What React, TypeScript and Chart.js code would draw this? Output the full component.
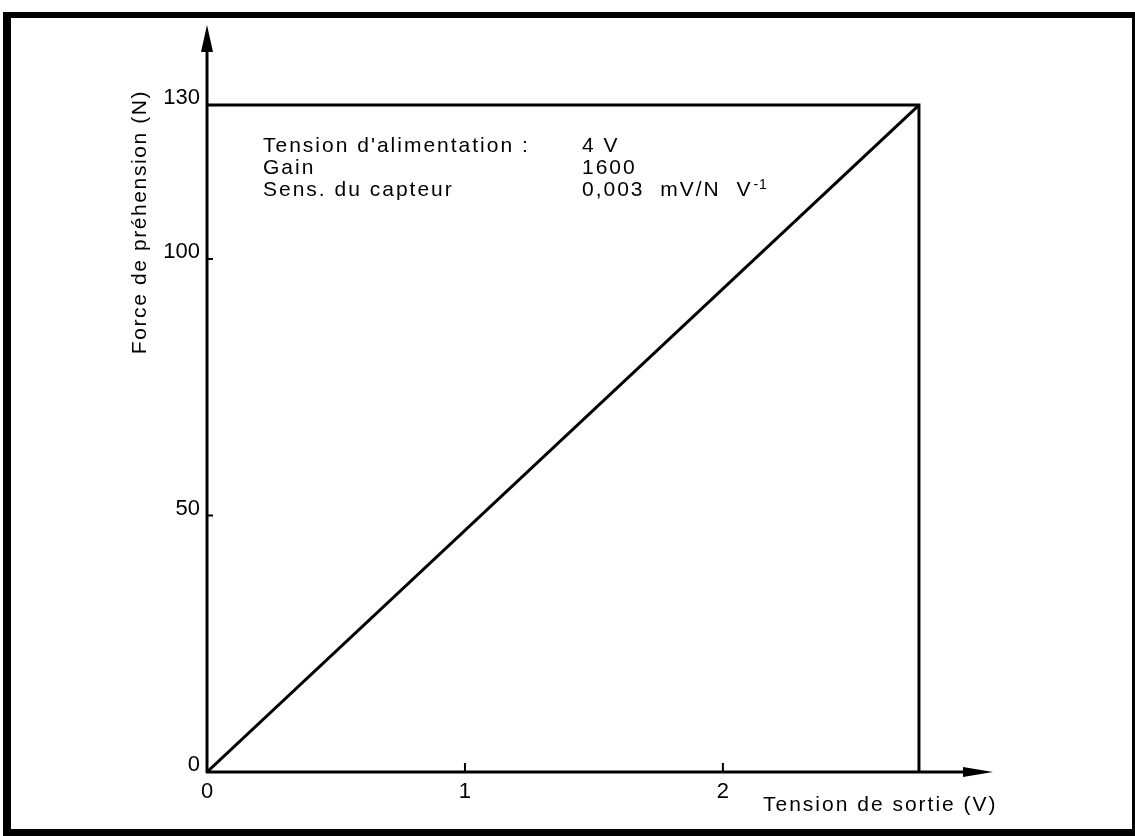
import React, { useEffect, useRef } from "react";
import { Chart, registerables } from "chart.js";

Chart.register(...registerables);

// ---- data ----
const calibX = [0, 2.76];
const calibY = [0, 130];
const boxX = [0, 2.76, 2.76];
const boxY = [130, 130, 0];
const xTickValues = [0, 1, 2];
const yTickValues = [0, 50, 100, 130];
const xMax = 3.047;
const yMax = 145.6;
const xTitle = "Tension de sortie (V)";
const yTitle = "Force de préhension (N)";
const infoLabels = ["Tension d'alimentation :", "Gain", "Sens. du capteur"];
const infoValues = ["4 V", "1600", "0,003  mV/N  V"];

const FONT = "'Liberation Sans', Arial, Helvetica, sans-serif";

const decorPlugin = {
  id: "decor",
  afterDraw(chart: any) {
    const ctx = chart.ctx as CanvasRenderingContext2D;
    const xs = chart.scales.x;
    const ys = chart.scales.y;
    const W = chart.width;
    const H = chart.height;
    const x0 = xs.getPixelForValue(0);
    const y0 = ys.getPixelForValue(0);
    const area = chart.chartArea;
    ctx.save();
    ctx.fillStyle = "#000";
    ctx.strokeStyle = "#000";
    // outer frame
    ctx.fillRect(3, 12, 8, H - 12);
    ctx.fillRect(3, 12, W - 3, 6);
    ctx.fillRect(W - 3, 12, 3, H - 12);
    ctx.fillRect(3, H - 7, W - 3, 7);

    // axes
    ctx.lineWidth = 3;
    ctx.beginPath();
    ctx.moveTo(x0, y0 + 1);
    ctx.lineTo(x0, area.top + 20);
    ctx.stroke();
    ctx.beginPath();
    ctx.moveTo(x0 - 1, y0);
    ctx.lineTo(area.right - 22, y0);
    ctx.stroke();
    // arrow heads
    ctx.beginPath();
    ctx.moveTo(x0, area.top);
    ctx.lineTo(x0 - 6, area.top + 27);
    ctx.lineTo(x0 + 6, area.top + 27);
    ctx.closePath();
    ctx.fill();
    ctx.beginPath();
    ctx.moveTo(area.right, y0);
    ctx.lineTo(area.right - 30, y0 - 5);
    ctx.lineTo(area.right - 30, y0 + 5);
    ctx.closePath();
    ctx.fill();

    // tick marks
    ctx.lineWidth = 2;
    yTickValues.forEach((v) => {
      if (v === 0) return;
      const y = ys.getPixelForValue(v);
      ctx.beginPath();
      ctx.moveTo(x0, y);
      ctx.lineTo(x0 + 6, y);
      ctx.stroke();
    });
    xTickValues.forEach((v) => {
      if (v === 0) return;
      const x = xs.getPixelForValue(v);
      ctx.beginPath();
      ctx.moveTo(x, y0);
      ctx.lineTo(x, y0 - 9);
      ctx.stroke();
    });

    // annotation block
    (ctx as any).letterSpacing = "2px";
    ctx.font = `21px ${FONT}`;
    ctx.textAlign = "left";
    ctx.textBaseline = "alphabetic";
    const baselines = [152, 174, 196];
    infoLabels.forEach((t, i) => ctx.fillText(t, 263, baselines[i]));
    infoValues.forEach((t, i) => ctx.fillText(t, 582, baselines[i]));
    const lastW = ctx.measureText(infoValues[2]).width;
    ctx.font = `14px ${FONT}`;
    (ctx as any).letterSpacing = "1px";
    ctx.fillText("-1", 582 + lastW + 1, baselines[2] - 7);

    // axis titles
    ctx.font = `21px ${FONT}`;
    (ctx as any).letterSpacing = "2px";
    ctx.textBaseline = "middle";
    ctx.fillText(xTitle, 763, 805);
    ctx.save();
    ctx.translate(140, 222);
    ctx.rotate(-Math.PI / 2);
    ctx.textAlign = "center";
    (ctx as any).letterSpacing = "1.6px";
    ctx.fillText(yTitle, 0, 0);
    ctx.restore();
    ctx.restore();
  },
};

export default function App() {
  const ref = useRef<HTMLCanvasElement | null>(null);
  useEffect(() => {
    document.body.style.margin = "0";
    const canvas = ref.current!;
    const chart = new Chart(canvas, {
      type: "scatter",
      data: {
        datasets: [
          {
            data: calibX.map((x, i) => ({ x, y: calibY[i] })),
            showLine: true,
            borderColor: "#000",
            borderWidth: 3,
            pointRadius: 0,
          },
          {
            data: boxX.map((x, i) => ({ x, y: boxY[i] })),
            showLine: true,
            borderColor: "#000",
            borderWidth: 3,
            pointRadius: 0,
          },
        ],
      },
      options: {
        animation: false,
        responsive: false,
        maintainAspectRatio: false,
        layout: { padding: { left: 0, top: 25, right: 142, bottom: 0 } },
        plugins: {
          legend: { display: false },
          tooltip: { enabled: false },
        },
        scales: {
          x: {
            type: "linear",
            min: 0,
            max: xMax,
            grid: { display: false, drawTicks: false },
            border: { display: false },
            afterFit: (s: any) => {
              s.height = 64;
            },
            afterBuildTicks: (s: any) => {
              s.ticks = xTickValues.map((v) => ({ value: v }));
            },
            ticks: {
              color: "#000",
              padding: 7,
              font: { family: FONT, size: 22 },
              callback: (v: any) => String(v),
            },
          },
          y: {
            type: "linear",
            min: 0,
            max: yMax,
            grid: { display: false, drawTicks: false },
            border: { display: false },
            afterFit: (s: any) => {
              s.width = 207;
            },
            afterBuildTicks: (s: any) => {
              s.ticks = yTickValues.map((v) => ({ value: v }));
            },
            ticks: {
              color: "#000",
              padding: 7,
              labelOffset: -7,
              font: { family: FONT, size: 22 },
              callback: (v: any) => String(v),
            },
          },
        },
      },
      plugins: [decorPlugin],
    });
    return () => chart.destroy();
  }, []);
  return (
    <div style={{ width: 1135, height: 836, background: "#fff" }}>
      <canvas ref={ref} width={1135} height={836} style={{ display: "block" }} />
    </div>
  );
}
